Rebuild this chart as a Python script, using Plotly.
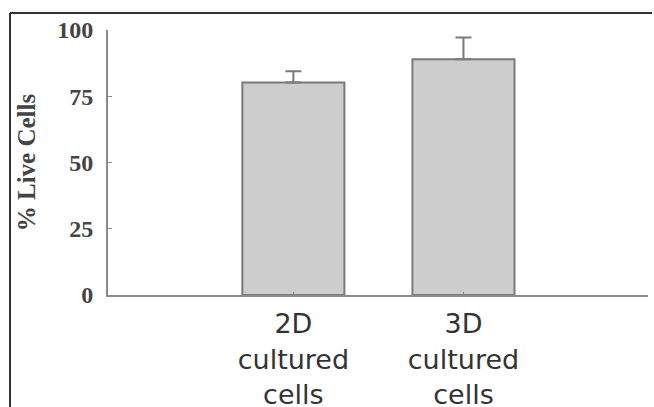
import plotly.graph_objects as go

categories = ["2D<br>cultured<br>cells", "3D<br>cultured<br>cells"]
live_pct = [80.2, 89.0]
err_plus = [4.2, 8.2]
y_ticks = [0, 25, 50, 75, 100]

fig = go.Figure()
fig.add_trace(go.Bar(
    x=[0, 1], y=live_pct, width=0.6,
    marker=dict(color="#cdcdcd", line=dict(color="#7a7a7a", width=2)),
    error_y=dict(type="data", array=err_plus, symmetric=False, arrayminus=[0, 0],
                 color="#7a7a7a", thickness=2, width=8),
))

fig.update_layout(
    width=654, height=407,
    margin=dict(l=108, r=6, t=30, b=112),
    paper_bgcolor="white", plot_bgcolor="white",
    showlegend=False,
    xaxis=dict(range=[-1.09, 2.085], tickmode="array", tickvals=[0, 1], ticktext=categories,
               showline=True, linecolor="#8a8a8a", linewidth=2, ticks="inside", ticklen=3,
               tickcolor="#8a8a8a", showgrid=False, zeroline=False, automargin=False,
               ticklabelstandoff=4,
               tickfont=dict(family="DejaVu Sans", size=27, color="#333333")),
    yaxis=dict(range=[0, 100], tickmode="array", tickvals=y_ticks,
               showline=True, linecolor="#8a8a8a", linewidth=2, ticks="inside", ticklen=4,
               tickcolor="#8a8a8a", showgrid=False, zeroline=False, automargin=False,
               ticklabelstandoff=8,
               tickfont=dict(family="Liberation Serif", size=24, color="#444444", weight="bold"),
               title=dict(text="% Live Cells", standoff=14,
                          font=dict(family="Liberation Serif", size=25, color="#444444", weight="bold"))),
)

# outer frame (top and left edges of the cropped figure)
fig.add_shape(type="line", xref="paper", yref="paper",
              x0=(10 - 108) / 540, x1=(652 - 108) / 540, y0=(295 - 13) / 265, y1=(295 - 13) / 265,
              line=dict(color="#333333", width=2))
fig.add_shape(type="line", xref="paper", yref="paper",
              x0=(10 - 108) / 540, x1=(10 - 108) / 540, y0=(295 - 13) / 265, y1=(295 - 410) / 265,
              line=dict(color="#333333", width=2))

fig.write_html("out.html")
